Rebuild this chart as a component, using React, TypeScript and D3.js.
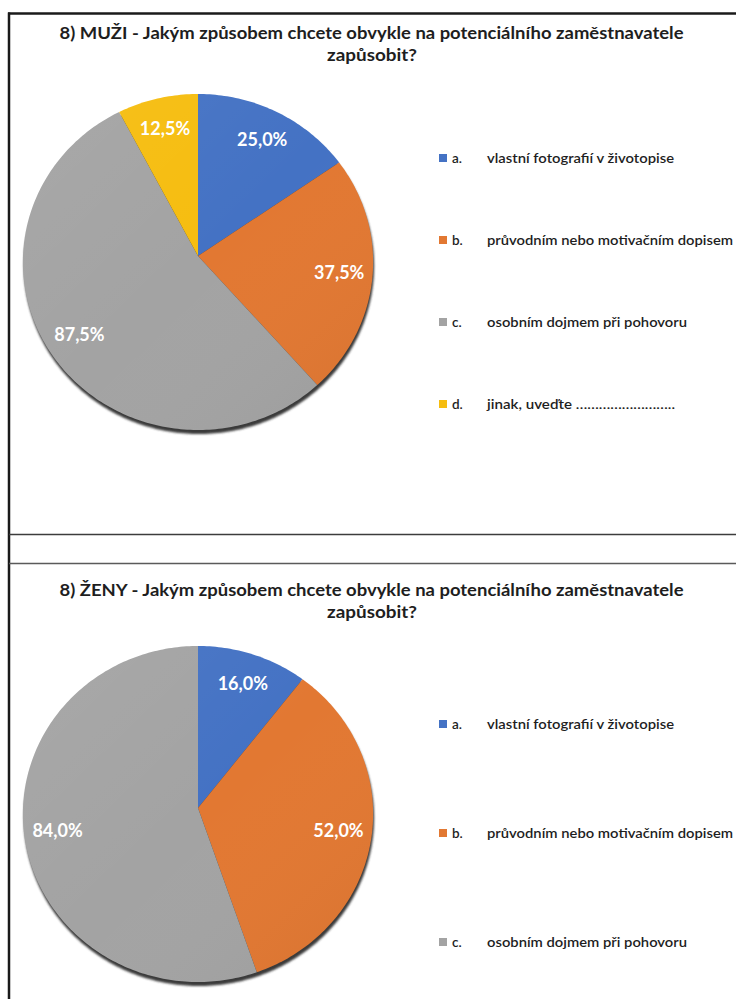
import React from 'react';
import * as d3 from 'd3';

const categories = ['a.', 'b.', 'c.', 'd.'];
const legendTexts = [
  'vlastní fotografií v životopise',
  'průvodním nebo motivačním dopisem',
  'osobním dojmem při pohovoru',
  'jinak, uveďte ……………………..',
];
const legendWidths = [187, 246, 200, 188];
const colors = ['#4472C4', '#E27832', '#A3A3A3', '#F6BD0F'];
const menValues = [25.0, 37.5, 87.5, 12.5];
const womenValues = [16.0, 52.0, 84.0];
const menTitle = ['8) MUŽI - Jakým způsobem chcete obvykle na potenciálního zaměstnavatele', 'zapůsobit?'];
const womenTitle = ['8) ŽENY - Jakým způsobem chcete obvykle na potenciálního zaměstnavatele', 'zapůsobit?'];

const R = 175;
const K = 0.0357;
const C = 0.9588;
const FONT = 'Lato, "Open Sans", "Liberation Sans", sans-serif';

function proj(a: number, rho: number): [number, number] {
  const x = rho * Math.sin(a);
  const y = -rho * Math.cos(a);
  const f = 1 / (1 - (K * y) / R);
  return [x * f, y * C * f];
}

const line = d3.line<[number, number]>();

function slicePath(a0: number, a1: number) {
  const n = Math.max(2, Math.ceil(((a1 - a0) * 180) / Math.PI));
  const pts: [number, number][] = [[0, 0]];
  for (let i = 0; i <= n; i++) pts.push(proj(a0 + ((a1 - a0) * i) / n, R));
  return line(pts) + 'Z';
}

function outlinePath() {
  const pts: [number, number][] = [];
  for (let i = 0; i <= 360; i++) pts.push(proj((i * Math.PI) / 180, R));
  return line(pts) + 'Z';
}

const fmt = (v: number) => v.toFixed(1).replace('.', ',') + '%';

function Panel({
  values,
  title,
  titleY,
  cx,
  cy,
  legendY0,
  legendStep,
  id,
}: {
  values: number[];
  title: string[];
  titleY: number;
  cx: number;
  cy: number;
  legendY0: number;
  legendStep: number;
  id: string;
}) {
  const arcs = d3.pie<number>().sort(null).value((d) => d)(values);
  const ly = d3.scaleLinear().domain([0, 1]).range([legendY0, legendY0 + legendStep]);
  return (
    <g>
      <text x={371.5} y={titleY} textAnchor="middle" fontFamily={FONT} fontWeight="bold" fontSize={17} fill="#1e1e1e" textLength={624} lengthAdjust="spacingAndGlyphs">
        {title[0]}
      </text>
      <text x={372} y={titleY + 22} textAnchor="middle" fontFamily={FONT} fontWeight="bold" fontSize={17} fill="#1e1e1e" textLength={90} lengthAdjust="spacingAndGlyphs">
        {title[1]}
      </text>
      <g transform={`translate(${cx},${cy})`}>
        <path d={outlinePath()} fill="#3a3a3a" transform="translate(1,4)" filter={`url(#blur)`} />
        {arcs.map((a, i) => (
          <path key={i} d={slicePath(a.startAngle, a.endAngle)} fill={colors[i]} />
        ))}
        <path d={outlinePath()} fill={`url(#shade${id})`} />
        {arcs.map((a, i) => {
          const [x, y] = proj((a.startAngle + a.endAngle) / 2, R * 0.81);
          return (
            <text key={i} x={x} y={y} textAnchor="middle" dominantBaseline="central" fontFamily={FONT} fontWeight="bold" fontSize={18} fill="#ffffff">
              {fmt(values[i])}
            </text>
          );
        })}
      </g>
      {values.map((_, i) => (
        <g key={i}>
          <rect x={439} y={ly(i) - 9} width={8} height={8} fill={colors[i]} />
          <text x={452} y={ly(i)} fontFamily={FONT} fontWeight="600" fontSize={13.5} fill="#1e1e1e">
            {categories[i]}
          </text>
          <text x={487} y={ly(i)} fontFamily={FONT} fontWeight="600" fontSize={13.5} fill="#1e1e1e" textLength={legendWidths[i]} lengthAdjust="spacingAndGlyphs">
            {legendTexts[i]}
          </text>
        </g>
      ))}
    </g>
  );
}

export default function App() {
  return (
    <svg width={736} height={999} style={{ position: 'absolute', left: 0, top: 0, background: '#fff' }}>
      <defs>
        <filter id="blur" x="-10%" y="-10%" width="120%" height="120%">
          <feGaussianBlur stdDeviation="1" />
        </filter>
        {['m', 'w'].map((id) => (
          <linearGradient key={id} id={`shade${id}`} x1="0" y1="0" x2="1" y2="1">
            <stop offset="0" stopColor="#ffffff" stopOpacity={0.06} />
            <stop offset="0.5" stopColor="#ffffff" stopOpacity={0} />
            <stop offset="1" stopColor="#000000" stopOpacity={0.05} />
          </linearGradient>
        ))}
      </defs>
      <rect x={0} y={0} width={736} height={999} fill="#ffffff" />
      <line x1={8} y1={13.5} x2={736} y2={13.5} stroke="#1a1a1a" strokeWidth={2.5} />
      <line x1={9} y1={12.5} x2={9} y2={999} stroke="#1a1a1a" strokeWidth={2.5} />
      <line x1={9} y1={534.5} x2={736} y2={534.5} stroke="#3c3c3c" strokeWidth={1.5} />
      <line x1={9} y1={563.5} x2={736} y2={563.5} stroke="#5a5a5a" strokeWidth={1.5} />
      <Panel values={menValues} title={menTitle} titleY={39} cx={198} cy={256} legendY0={163} legendStep={82} id="m" />
      <Panel values={womenValues} title={womenTitle} titleY={596} cx={198} cy={808} legendY0={729} legendStep={109} id="w" />
    </svg>
  );
}
